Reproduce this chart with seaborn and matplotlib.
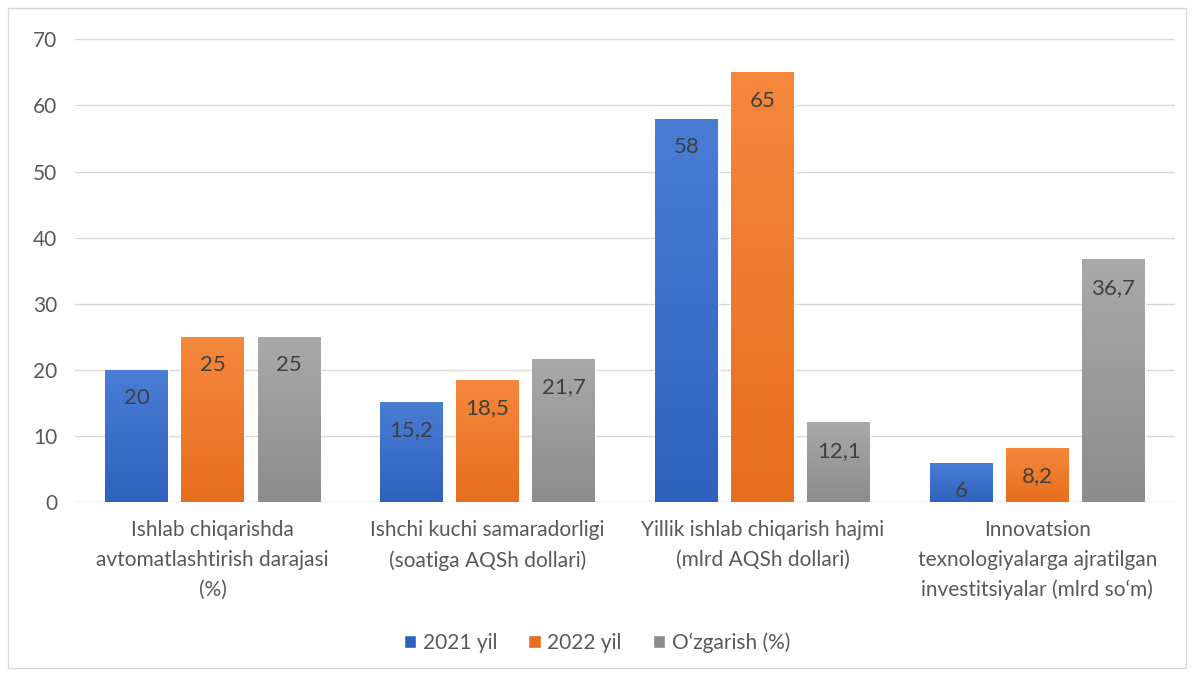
import matplotlib
matplotlib.use("Agg")
import matplotlib.pyplot as plt
import seaborn as sns
import pandas as pd
import numpy as np
from matplotlib.colors import LinearSegmentedColormap
from matplotlib.patches import Rectangle

categories = [
    "Ishlab chiqarishda\navtomatlashtirish darajasi\n(%)",
    "Ishchi kuchi samaradorligi\n(soatiga AQSh dollari)",
    "Yillik ishlab chiqarish hajmi\n(mlrd AQSh dollari)",
    "Innovatsion\ntexnologiyalarga ajratilgan\ninvestitsiyalar (mlrd so‘m)",
]
series = ["2021 yil", "2022 yil", "O‘zgarish (%)"]
v2021 = [20, 15.2, 58, 6]
v2022 = [25, 18.5, 65, 8.2]
vchange = [25, 21.7, 12.1, 36.7]
labels2021 = ["20", "15,2", "58", "6"]
labels2022 = ["25", "18,5", "65", "8,2"]
labelschange = ["25", "21,7", "12,1", "36,7"]

sns.set_theme(style="white")
plt.rcParams["font.family"] = ["Lato", "DejaVu Sans"]

rows = []
for s, vals in zip(series, [v2021, v2022, vchange]):
    for c, v in zip(categories, vals):
        rows.append({"cat": c, "series": s, "value": v})
df = pd.DataFrame(rows)

colors_top = ["#4a7dd4", "#f5883c", "#a9a9a9"]
colors_bot = ["#2f62bf", "#e66e1d", "#8c8c8c"]
palette = dict(zip(series, colors_bot))

fig = plt.figure(figsize=(11.94, 6.76), dpi=100)
ax = fig.add_axes([0.063, 0.257, 0.921, 0.685])
sns.barplot(data=df, x="cat", y="value", hue="series", palette=palette,
            width=0.83, gap=0.18, ax=ax, legend=True, saturation=1)

ax.set_ylim(0, 70)
ax.set_yticks(range(0, 71, 10))
ax.yaxis.grid(True, color="#d9d9d9", linewidth=1)
ax.set_axisbelow(True)
for sp in ax.spines.values():
    sp.set_visible(False)
ax.set_xlabel("")
ax.set_ylabel("")
ax.tick_params(axis="y", labelsize=15, labelcolor="#595959", length=0, pad=13)
ax.tick_params(axis="x", labelsize=15, labelcolor="#595959", length=0, pad=13)
for t in ax.get_xticklabels():
    t.set_linespacing(1.6)
ax.axhline(0, color="#d9d9d9", linewidth=1, zorder=1)

all_labels = [labels2021, labels2022, labelschange]
for si, cont in enumerate(ax.containers):
    cmap = LinearSegmentedColormap.from_list("g", [colors_bot[si], colors_top[si]])
    for bi, bar in enumerate(cont):
        x0, y0 = bar.get_x(), bar.get_y()
        w, h = bar.get_width(), bar.get_height()
        grad = np.linspace(0, 1, 256).reshape(-1, 1)
        im = ax.imshow(grad, cmap=cmap, origin="lower", aspect="auto",
                       extent=[x0, x0 + w, y0, y0 + h], zorder=2)
        im.set_clip_path(bar)
        bar.set_facecolor("none")
        ax.text(x0 + w / 2, y0 + h - 4.3, all_labels[si][bi], ha="center", va="center",
                fontsize=16, color="#404040", zorder=3)

ax.set_xlim(-0.5, 3.5)
ax.set_aspect("auto")

handles = [Rectangle((0, 0), 1, 1, facecolor=c) for c in colors_bot]
ax.legend(handles, series, loc="center", bbox_to_anchor=(0.5, 0.049),
          bbox_transform=fig.transFigure,
          ncol=3, frameon=False, fontsize=15, handlelength=0.6, handleheight=0.6,
          handletextpad=0.3, columnspacing=1.5, labelcolor="#595959")

fig.patches.append(Rectangle((0.007, 0.012), 0.986, 0.976, transform=fig.transFigure,
                             fill=False, edgecolor="#d9d9d9", linewidth=1))
fig.savefig("out.png", dpi=100)
